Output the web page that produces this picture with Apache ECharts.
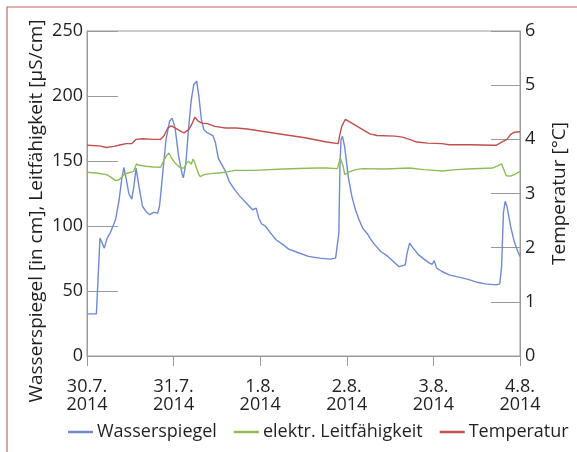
<!DOCTYPE html>
<html>
<head>
<meta charset="utf-8">
<script src="https://cdn.jsdelivr.net/npm/echarts@6/dist/echarts.min.js"></script>
<style>html,body{margin:0;padding:0;background:#fff}#c{width:577px;height:452px}</style>
</head>
<body>
<div id="c"></div>
<script>
// x values are hours since 30.7.2014 00:00
const xTickLabels = ['30.7.\n2014', '31.7.\n2014', '1.8.\n2014', '2.8.\n2014', '3.8.\n2014', '4.8.\n2014'];
const seriesNames = ['Wasserspiegel', 'elektr. Leitfähigkeit', 'Temperatur'];

const wasserHours = [0,2.6,3.6,4.0,4.8,5.6,6.4,7.9,8.9,9.6,10.2,10.9,11.6,12.4,13.0,13.6,14.4,15.4,16.4,17.4,18.4,19.6,20.1,20.9,21.9,22.9,23.6,24.4,25.4,26.4,26.7,27.4,28.2,28.9,29.6,30.4,31.0,31.7,32.4,33.4,34.9,35.6,36.4,37.4,38.4,39.4,40.9,42.4,44.4,45.9,46.9,47.6,48.4,49.4,50.9,52.4,54.4,55.9,58.4,61.4,64.4,67.4,68.9,69.4,69.8,70.1,70.4,70.8,71.4,72.4,73.4,74.4,75.4,76.4,77.9,78.4,79.4,81.4,83.4,84.9,86.4,87.4,88.2,88.7,89.4,90.4,91.9,93.4,94.9,95.7,96.2,96.9,98.4,100.4,102.4,105.4,108.4,110.4,113.4,114.4,114.9,115.4,115.9,116.4,117.4,118.4,119.4,120.0];
const wasserValues = [32.4,32.4,90.7,90.5,83,90.7,94.5,104.8,120,135.6,145,135.6,125,120.7,130.5,144.6,130.5,115,111,108.7,110.5,110,115.2,138,166.5,180.6,183,175.5,153.6,139.5,137,148.5,176.7,197,208.9,211.4,199.9,181.9,174,171.6,169.6,164,152,147,142,134.4,128,122.8,117,112.5,113.8,106,101.7,100,94.5,89.4,85.5,82.2,79.6,76.6,75.3,74.5,75.3,76.6,94.5,146,166.5,169,161,138,122.8,112.5,104.8,98.4,93.3,90.7,86.8,80.4,76.6,72.7,68.8,69.4,70.1,79,86.8,83,77.8,74.5,71.4,70.6,73.5,67.6,65,62.4,61.1,59.1,56.5,55.5,54.7,55.5,68.8,110,119,115,99.7,88,80.4,76.6];

const leitHours = [0,2.4,5.4,6.4,7.9,8.9,10.4,11.4,12.9,13.7,14.4,16.4,18.4,20.4,21.2,21.9,22.7,23.4,24.4,25.9,26.9,27.6,28.2,28.9,29.4,29.9,30.9,31.4,32.4,34.4,36.4,38.4,40.9,46.4,54.4,63.4,66.4,69.4,70.2,70.6,71.0,71.4,72.4,74.4,76.4,82.4,89.4,93.4,96.4,98.4,102.4,105.4,112.4,113.9,114.9,115.4,116.2,117.4,118.4,120.0];
const leitValues = [141.3,140.8,139.5,138,134.9,135.6,140,140.8,142,147.7,146.7,146,145.4,145.2,149.8,153.6,156.2,152.3,148.5,144.6,144.6,148.5,149.8,147.5,151.6,148.5,140,138,139.5,140.3,140.8,141.3,142.8,142.8,143.9,144.6,144.6,144.1,152.3,153.6,145.9,139.5,141.3,143.4,144.1,143.9,144.6,143.4,142.8,142.3,143.4,143.9,144.6,146.4,147.7,144.3,138.7,138.4,139.5,142];

const tempHours = [0,3.4,5.4,7.4,9.4,10.9,12.4,13.6,15.4,18.4,20.4,21.4,22.4,23.4,24.4,25.9,26.9,28.2,29.2,29.9,30.9,31.9,33.4,35.4,38.4,41.4,44.4,48.4,54.4,60.4,66.4,69.6,70.1,70.6,71.6,73.4,76.4,78.4,80.4,85.4,87.4,89.4,91.4,94.4,98.4,100.4,106.4,112.4,113.4,114.9,116.4,117.4,118.4,120.0];
const tempValues = [3.89,3.88,3.85,3.87,3.90,3.92,3.92,4.00,4.01,4.00,4.00,4.07,4.21,4.25,4.21,4.15,4.12,4.18,4.30,4.41,4.33,4.30,4.29,4.24,4.21,4.21,4.19,4.15,4.09,4.03,3.95,3.92,4.09,4.24,4.37,4.30,4.18,4.10,4.07,4.06,4.04,4.00,3.95,3.93,3.92,3.90,3.90,3.89,3.89,3.95,4.00,4.09,4.13,4.14];

const colors = ['#6f8acf', '#8fbd55', '#c0504d'];
const textColor = '#231f20';
const axisGray = '#9a9a9a';
const font = '"Open Sans", sans-serif';

function pairs(xs, ys) { return xs.map((x, i) => [x, ys[i]]); }

const chart = echarts.init(document.getElementById('c'), null, {renderer: 'canvas'});
chart.setOption({
  animation: false,
  backgroundColor: '#fff',
  textStyle: {fontFamily: font, color: textColor},
  graphic: [
    {type: 'rect', shape: {x: 7, y: 7, width: 620, height: 500}, style: {fill: 'none', stroke: '#c46663', lineWidth: 1.2}, silent: true},
    {type: 'text', x: 37, y: 211, rotation: Math.PI / 2,
     style: {text: 'Wasserspiegel [in cm], Leitfähigkeit [µS/cm]', font: '19px "Open Sans", sans-serif', fill: textColor, align: 'center', verticalAlign: 'middle'}}
  ],
  grid: {left: 87, right: 48, top: 31, bottom: 96, show: true, borderColor: axisGray, borderWidth: 1, containLabel: false},
  legend: {
    data: seriesNames, bottom: 6, left: 63, itemGap: 17, itemWidth: 25, itemHeight: 2.5, icon: 'rect',
    textStyle: {fontSize: 18, color: textColor, fontFamily: font, padding: [0, 0, 0, -1]}
  },
  xAxis: {
    type: 'value', min: 0, max: 120, interval: 24,
    axisLine: {show: true, lineStyle: {color: axisGray, width: 1}},
    axisTick: {show: true, inside: false, length: 10, lineStyle: {color: axisGray}},
    splitLine: {show: false},
    axisLabel: {fontSize: 18, color: textColor, fontFamily: font, margin: 22, lineHeight: 18,
      formatter: v => xTickLabels[Math.round(v / 24)]}
  },
  yAxis: [
    {type: 'value', min: 0, max: 250, interval: 50, position: 'left',
     axisLine: {show: true, lineStyle: {color: axisGray}},
     axisTick: {show: true, inside: true, length: 31, lineStyle: {color: axisGray}},
     splitLine: {show: false},
     axisLabel: {fontSize: 18, color: textColor, fontFamily: font, margin: 4}},
    {type: 'value', min: 0, max: 6, interval: 1, position: 'right',
     name: 'Temperatur [°C]', nameLocation: 'middle', nameGap: 30, nameRotate: 90,
     nameTextStyle: {fontSize: 19, color: textColor, fontFamily: font},
     axisLine: {show: true, lineStyle: {color: axisGray}},
     axisTick: {show: true, inside: true, length: 29, lineStyle: {color: axisGray}},
     splitLine: {show: false},
     axisLabel: {fontSize: 18, color: textColor, fontFamily: font, margin: 5}}
  ],
  series: [
    {name: seriesNames[0], type: 'line', yAxisIndex: 0, data: pairs(wasserHours, wasserValues), showSymbol: false, symbol: 'none',
     lineStyle: {color: colors[0], width: 1.4}, itemStyle: {color: colors[0]}, z: 2},
    {name: seriesNames[1], type: 'line', yAxisIndex: 0, data: pairs(leitHours, leitValues), showSymbol: false, symbol: 'none',
     lineStyle: {color: colors[1], width: 1.4}, itemStyle: {color: colors[1]}, z: 3},
    {name: seriesNames[2], type: 'line', yAxisIndex: 1, data: pairs(tempHours, tempValues), showSymbol: false, symbol: 'none',
     lineStyle: {color: colors[2], width: 1.4}, itemStyle: {color: colors[2]}, z: 4}
  ]
});
</script>
</body>
</html>
